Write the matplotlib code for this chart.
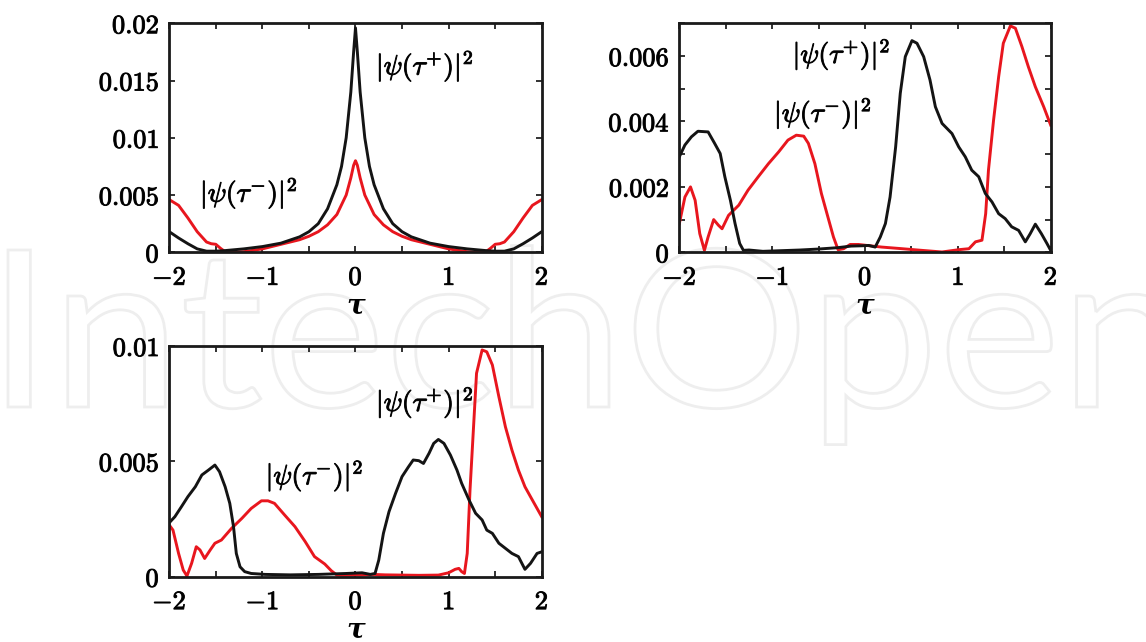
import numpy as np
import matplotlib
matplotlib.use("Agg")
import matplotlib.pyplot as plt
import matplotlib.patheffects as pe
from matplotlib.textpath import TextPath
from matplotlib.patches import PathPatch
from matplotlib.font_manager import FontProperties
from matplotlib.transforms import Affine2D
from matplotlib.ticker import MultipleLocator

plt.rcParams['mathtext.fontset'] = 'cm'

# values, |psi|^2 in units of 1e-3
# top left panel
tau1_plus = [-2.0, -1.9, -1.8, -1.7, -1.6, -1.5, -1.4, -1.2, -1.0, -0.8, -0.6, -0.5, -0.4, -0.3, -0.2,
             -0.15, -0.1, -0.05, -0.02, 0.0, 0.02, 0.05, 0.1, 0.15, 0.2, 0.3, 0.4, 0.5, 0.6, 0.8, 1.0,
             1.2, 1.4, 1.5, 1.6, 1.7, 1.8, 1.9, 2.0]
psi1_plus = [1.8, 1.25, 0.75, 0.3, 0.1, 0.1, 0.15, 0.3, 0.5, 0.8, 1.35, 1.8, 2.5, 3.8, 5.9,
             7.5, 10.0, 14.0, 17.5, 19.6, 17.5, 14.0, 10.0, 7.5, 5.9, 3.8, 2.5, 1.8, 1.35, 0.8, 0.5,
             0.3, 0.15, 0.1, 0.1, 0.3, 0.75, 1.25, 1.8]
tau1_minus = [-2.0, -1.9, -1.8, -1.7, -1.6, -1.55, -1.5, -1.45, -1.4, -1.3, -1.2, -1.0, -0.8, -0.6, -0.5,
              -0.4, -0.3, -0.2, -0.1, -0.05, -0.02, 0.0, 0.02, 0.05, 0.1, 0.2, 0.3, 0.4, 0.5, 0.6,
              0.8, 1.0, 1.2, 1.3, 1.4, 1.45, 1.5, 1.55, 1.6, 1.7, 1.8, 1.9, 2.0]
psi1_minus = [4.6, 4.1, 3.0, 1.8, 0.9, 0.75, 0.7, 0.35, 0.05, 0.02, 0.05, 0.3, 0.7, 1.1, 1.4,
              1.8, 2.4, 3.3, 5.0, 6.5, 7.6, 8.0, 7.6, 6.5, 5.0, 3.3, 2.4, 1.8, 1.4, 1.1,
              0.7, 0.3, 0.05, 0.02, 0.05, 0.35, 0.7, 0.75, 0.9, 1.8, 3.0, 4.1, 4.6]

# top right panel
tau2_plus = [-2.0, -1.94, -1.87, -1.80, -1.69, -1.62, -1.56, -1.51, -1.45, -1.40, -1.35, -1.31, -1.25,
             -1.1, -0.9, -0.7, -0.5, -0.3, -0.15, -0.03, 0.04, 0.11, 0.165, 0.22, 0.27, 0.33, 0.38,
             0.434, 0.506, 0.56, 0.632, 0.70, 0.758, 0.83, 0.937, 1.01, 1.08, 1.15, 1.225, 1.296,
             1.368, 1.44, 1.51, 1.58, 1.655, 1.727, 1.78, 1.835, 1.9, 1.96, 2.0]
psi2_plus = [2.92, 3.28, 3.53, 3.70, 3.68, 3.33, 3.02, 2.31, 1.59, 0.88, 0.27, 0.06, 0.07,
             0.03, 0.05, 0.07, 0.1, 0.14, 0.19, 0.2, 0.21, 0.16, 0.47, 0.88, 1.69, 3.22, 4.86,
             5.98, 6.47, 6.39, 5.98, 5.27, 4.45, 3.94, 3.63, 3.22, 2.92, 2.51, 2.31, 1.80,
             1.54, 1.18, 1.03, 0.78, 0.67, 0.32, 0.57, 0.86, 0.57, 0.27, 0.06]
tau2_minus = [-2.0, -1.94, -1.88, -1.83, -1.78, -1.73, -1.69, -1.63, -1.58, -1.54, -1.47, -1.36, -1.26,
              -1.15, -1.04, -0.93, -0.83, -0.74, -0.66, -0.61, -0.54, -0.47, -0.39, -0.34, -0.29,
              -0.23, -0.16, -0.07, 0.05, 0.18, 0.4, 0.61, 0.83, 1.01, 1.12, 1.19, 1.26, 1.30, 1.33,
              1.385, 1.44, 1.49, 1.566, 1.62, 1.69, 1.76, 1.835, 1.925, 2.0]
psi2_minus = [0.88, 1.69, 2.0, 1.59, 0.57, 0.06, 0.47, 1.0, 0.83, 0.72, 1.13, 1.44, 1.90,
              2.31, 2.71, 3.07, 3.43, 3.58, 3.55, 3.33, 2.71, 1.80, 0.98, 0.47, 0.08,
              0.11, 0.24, 0.24, 0.2, 0.16, 0.11, 0.06, 0.01, 0.08, 0.11, 0.32, 0.37, 1.18, 2.51,
              4.04, 5.37, 6.39, 6.92, 6.85, 6.29, 5.67, 5.06, 4.45, 3.89]

# bottom panel
tau3_plus = [-2.0, -1.94, -1.87, -1.80, -1.72, -1.65, -1.58, -1.51, -1.46, -1.40, -1.35, -1.31, -1.28,
             -1.24, -1.19, -1.12, -0.97, -0.7, -0.4, -0.1, 0.07, 0.16, 0.21, 0.25, 0.30, 0.36, 0.43,
             0.50, 0.57, 0.62, 0.68, 0.73, 0.79, 0.84, 0.89, 0.95, 1.02, 1.09, 1.14, 1.22, 1.29,
             1.36, 1.41, 1.47, 1.54, 1.61, 1.68, 1.75, 1.82, 1.88, 1.95, 2.0]
psi3_plus = [2.34, 2.6, 3.03, 3.47, 3.9, 4.41, 4.62, 4.84, 4.55, 3.9, 3.18, 2.17, 1.01,
             0.43, 0.22, 0.14, 0.1, 0.08, 0.1, 0.14, 0.17, 0.1, 0.14, 0.72, 1.88, 2.82, 3.61,
             4.34, 4.77, 5.06, 5.03, 4.91, 5.35, 5.78, 5.95, 5.78, 5.27, 4.62, 4.05, 3.32, 2.75,
             2.46, 2.02, 1.88, 1.45, 1.23, 1.01, 0.87, 0.32, 0.58, 1.01, 1.08]
tau3_minus = [-2.0, -1.96, -1.90, -1.85, -1.81, -1.76, -1.71, -1.67, -1.62, -1.56, -1.51, -1.44, -1.33,
              -1.22, -1.12, -1.01, -0.94, -0.87, -0.76, -0.65, -0.54, -0.44, -0.33, -0.26, -0.20,
              -0.11, 0.0, 0.18, 0.32, 0.68, 0.89, 1.0, 1.07, 1.11, 1.14, 1.17, 1.20, 1.23, 1.27,
              1.30, 1.36, 1.41, 1.47, 1.54, 1.61, 1.68, 1.75, 1.82, 1.90, 2.0]
psi3_minus = [2.24, 2.02, 1.01, 0.29, 0.03, 0.58, 1.30, 1.16, 0.79, 1.16, 1.45, 1.59, 2.10,
              2.53, 2.96, 3.29, 3.29, 3.18, 2.67, 2.17, 1.52, 0.87, 0.55, 0.26, 0.07,
              0.06, 0.07, 0.1, 0.08, 0.06, 0.07, 0.17, 0.32, 0.36, 0.22, 0.14, 1.01, 3.76, 6.65,
              8.82, 9.83, 9.75, 9.18, 7.80, 6.5, 5.49, 4.62, 3.90, 3.32, 2.60]

x_ticks = [-2, -1, 0, 1, 2]
x_ticklabels = ['$-2$', '$-1$', '$0$', '$1$', '$2$']
y1_ticks = [0, 0.005, 0.01, 0.015, 0.02]
y1_ticklabels = ['$0$', '$0.005$', '$0.01$', '$0.015$', '$0.02$']
y2_ticks = [0, 0.002, 0.004, 0.006]
y2_ticklabels = ['$0$', '$0.002$', '$0.004$', '$0.006$']
y3_ticks = [0, 0.005, 0.01]
y3_ticklabels = ['$0$', '$0.005$', '$0.01$']

label_plus = r'$|\psi(\tau^{+})|^2$'
label_minus = r'$|\psi(\tau^{-})|^2$'

RED = '#e8161e'
BLACK = '#141414'
bold_fx = [pe.withStroke(linewidth=0.7, foreground='#111111')]

W, H = 1146, 642
fig = plt.figure(figsize=(W / 100, H / 100), dpi=100)
fig.patch.set_facecolor('white')

# faint outlined watermark behind everything
fp = FontProperties(family='Lato')
tp = TextPath((0, 0), "IntechOpen", size=100, prop=fp)
ext = tp.get_extents()
head = TextPath((0, 0), "Intech", size=100, prop=fp).get_extents()
cap = TextPath((0, 0), "I", size=100, prop=fp).get_extents()
sy = 157.0 / cap.height
sx = (609.0 - 8.0) / (head.x1 - head.x0)
tr = Affine2D().translate(-ext.x0, 0).scale(sx, sy).translate(8, H - 407).scale(1.0 / W, 1.0 / H)
wm = PathPatch(tr.transform_path(tp), facecolor='none', edgecolor='#eeeeee', lw=2.0,
               transform=fig.transFigure, zorder=-5)
fig.add_artist(wm)


def make_panel(rect, tp_, yp_, tm_, ym_, ylim, yticks, yticklabels, yminor, plus_pos, minus_pos):
    ax = fig.add_axes(rect)
    ax.set_facecolor('none')
    ax.plot(tm_, np.array(ym_) * 1e-3, color=RED, lw=2.1, solid_joinstyle='round')
    ax.plot(tp_, np.array(yp_) * 1e-3, color=BLACK, lw=2.1, solid_joinstyle='round')
    ax.set_xlim(-2, 2)
    ax.set_ylim(*ylim)
    ax.set_xticks(x_ticks)
    ax.set_xticklabels(x_ticklabels)
    ax.set_yticks(yticks)
    ax.set_yticklabels(yticklabels)
    ax.xaxis.set_minor_locator(MultipleLocator(0.5))
    if yminor:
        ax.yaxis.set_minor_locator(MultipleLocator(yminor))
    ax.tick_params(which='both', direction='in', top=True, right=True, width=1.3,
                   length=4.5, labelsize=19, color='#222222')
    ax.tick_params(axis='x', which='both', pad=9)
    ax.tick_params(axis='y', which='both', pad=7)
    for lab in ax.get_xticklabels() + ax.get_yticklabels():
        lab.set_path_effects(bold_fx)
    for s in ax.spines.values():
        s.set_linewidth(2.0)
        s.set_color('#1a1a1a')
    ax.set_xlabel('τ', family='DejaVu Serif', style='italic', weight='bold', fontsize=20, labelpad=1)
    ax.text(plus_pos[0], plus_pos[1], label_plus, fontsize=20, ha='left', va='center',
            path_effects=bold_fx)
    ax.text(minus_pos[0], minus_pos[1], label_minus, fontsize=20, ha='left', va='center',
            path_effects=bold_fx)
    return ax


make_panel([0.1477, 0.607, 0.325, 0.3567], tau1_plus, psi1_plus, tau1_minus, psi1_minus,
           (0, 0.02), y1_ticks, y1_ticklabels, None, (0.22, 0.0163), (-1.67, 0.0052))
make_panel([0.5928, 0.607, 0.324, 0.3567], tau2_plus, psi2_plus, tau2_minus, psi2_minus,
           (0, 0.007), y2_ticks, y2_ticklabels, 0.001, (-0.78, 0.00606), (-0.98, 0.00426))
make_panel([0.1477, 0.1017, 0.325, 0.3593], tau3_plus, psi3_plus, tau3_minus, psi3_minus,
           (0, 0.01), y3_ticks, y3_ticklabels, None, (0.22, 0.00757), (-0.965, 0.00439))

fig.savefig('out.png', dpi=100)
